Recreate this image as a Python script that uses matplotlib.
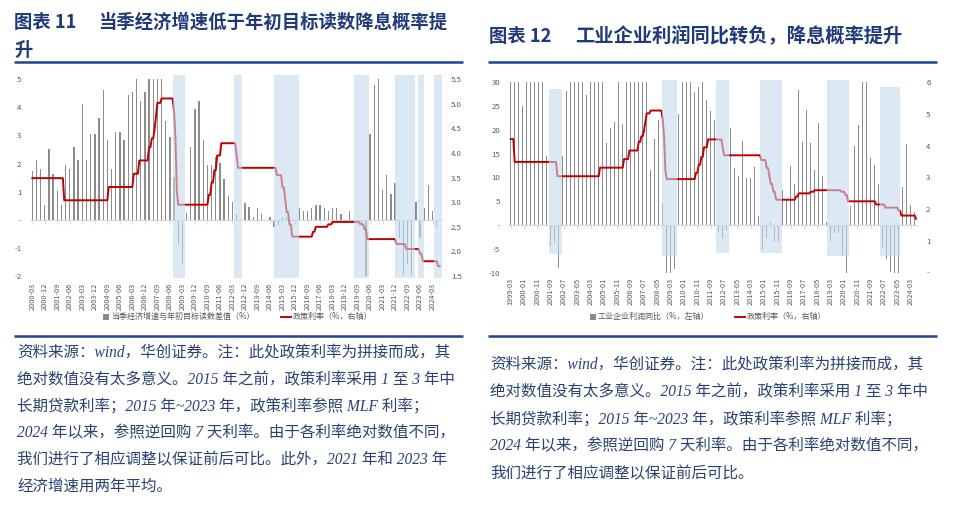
import numpy as np
import pandas as pd
import matplotlib
matplotlib.use('Agg')
import matplotlib.pyplot as plt
from matplotlib.patches import Rectangle
from matplotlib.lines import Line2D
from matplotlib.transforms import blended_transform_factory

plt.rcParams['font.family'] = ['Noto Sans CJK SC', 'DejaVu Sans']
plt.rcParams['axes.unicode_minus'] = False

# ---------------- data: chart 11 (quarterly, 2000Q1 .. 2024Q2) ----------------
gdp_gap = [1.73, 2.14, 1.82, 0.52, 2.52, 1.62, 1.02, 0.52, 1.94, 1.82,
           2.6, 2.14, 4.13, 2.14, 3.05, 3.05, 3.63, 4.63, 2.85, 1.82,
           3.12, 3.12, 2.85, 4.43, 4.54, 5.0, 4.23, 4.54, 5.0, 5.0,
           5.0, 5.0, 3.5, 2.93, 1.54, -0.87, -1.56, 0.24, 2.6, 3.93,
           4.23, 2.85, 1.94, 1.94, 2.23, 2.02, 1.44, 0.83, 0.63,
           0.2, -0.05, 0.6, 0.45, 0.1, 0.43, 0.2, 0.0, 0.1, -0.25,
           -0.2, 0.1, 0.1, 0.0, -0.06, 0.43, 0.3, 0.3, 0.43, 0.52,
           0.52, 0.43, 0.3, 0.43, 0.43, 0.2, 0.0, 0.3, 0.0, -0.05,
           -0.15, -2.0, 3.07, 4.8, 5.0, 1.05, 1.6, 0.93, 1.3, -0.63,
           -1.96, -1.56, -1.96, 0.65, -0.63, 0.43, 1.24, 0.3, -0.24]
gdp_origin = '2000-03-31'
gdp_tick_labels = ['2000-03', '2000-12', '2001-09', '2002-06', '2003-03', '2003-12',
                   '2004-09', '2005-06', '2006-03', '2006-12', '2007-09', '2008-06',
                   '2009-03', '2009-12', '2010-09', '2011-06', '2012-03', '2012-12',
                   '2013-09', '2014-06', '2015-03', '2015-12', '2016-09', '2017-06',
                   '2018-03', '2018-12', '2019-09', '2020-06', '2021-03', '2021-12',
                   '2022-09', '2023-06', '2024-03']
gdp_shade_start = ['2008-09-03', '2012-04-28', '2014-09-30', '2019-07-09',
                   '2021-12-28', '2023-05-06', '2024-05-06']
gdp_shade_end = ['2009-05-25', '2012-10-18', '2016-03-31', '2020-06-03',
                 '2023-03-03', '2023-09-30', '2024-10-27']
gdp_rate_end = '2024-08-31'

# ---------------- data: chart 12 (quarterly, 1999-03 .. 2024-06) ----------------
profit_yoy = [30, 30, 30, 25, 30, 30, 30, 30, 30,
              14.5, -4.3, -3.7, -9.1, 14.5, 28.1,
              30, 30, 30, 30, 27.4, 30, 30, 30, 30,
              17.2, 20.5, 21.7, 30, 21.3,
              30, 30, 30, 30, 30, 30,
              11.6, 18, 22, 4.6, -10, -10, -9.3, 23.4,
              30, 30, 30, 28, 29, 30, 26.3, 24, 22,
              -1.4, -2.8, -1.05,
              20.3, 11.9, 10.3, 17.7, 9.8, 10.0, 12.3,
              1.9, -5.2, -2.8, 0.7, -3.5, -3.5,
              7.4, 5.2, 12.5, 8.7, 28.4, 17.5, 24.1, 17.3, 11.5, 21.5, 10.3, 0.7,
              -3.3, -1.75, -1.6, -6.3, -10,
              4.0, 16.6, 21, 30, 30, 14.2, 12.6, 8.6,
              -4.5, -7.1, -9.9, -10, -10,
              7.9, 17, 4.3, 2.8]
profit_origin = '1999-03-31'
profit_tick_labels = ['1999-03', '2000-01', '2000-11', '2001-09', '2002-07', '2003-05',
                      '2004-03', '2005-01', '2005-11', '2006-09', '2007-07', '2008-05',
                      '2009-03', '2010-01', '2010-11', '2011-09', '2012-07', '2013-05',
                      '2014-03', '2015-01', '2015-11', '2016-09', '2017-07', '2018-05',
                      '2019-03', '2020-01', '2020-11', '2021-09', '2022-07', '2023-05',
                      '2024-03']
profit_shade_start = ['2001-08-31', '2008-09-21', '2012-01-31', '2014-11-06',
                      '2018-12-31', '2022-04-25']
profit_shade_end = ['2002-06-09', '2009-08-31', '2012-11-30', '2016-03-09',
                    '2020-05-31', '2023-08-09']
profit_shade_top = [28.6, 30.5, 30.5, 30.5, 30.5, 29.1]
profit_shade_bottom = [-6.1, -6.4, -5.9, -5.9, -6.5, -6.5]
profit_rate_end = '2024-07-31'

# ---------------- data: spliced policy rate (adjusted, %) ----------------
rate_dates = ['1998-12-07', '1999-06-10', '2002-02-21', '2004-10-29', '2006-04-28',
              '2006-08-19', '2007-03-18', '2007-05-19', '2007-07-21', '2007-08-22',
              '2007-09-15', '2007-12-21', '2008-09-16', '2008-10-09', '2008-10-30',
              '2008-11-27', '2008-12-23', '2010-10-20', '2010-12-26', '2011-02-09',
              '2011-04-06', '2011-07-07', '2012-06-08', '2012-07-06', '2014-11-22',
              '2015-03-01', '2015-05-11', '2015-06-28', '2015-08-26', '2015-10-24',
              '2017-01-24', '2017-03-16', '2017-12-14', '2018-03-22', '2019-11-05',
              '2020-02-17', '2020-04-15', '2022-01-17', '2022-08-15', '2023-06-15',
              '2023-08-15', '2024-07-22']
rate_values = [4.21, 3.49, 3.04, 3.31, 3.58, 3.85, 4.12, 4.30, 4.48, 4.75,
               5.02, 5.11, 4.84, 4.57, 4.30, 3.22, 2.95, 3.15, 3.40, 3.65,
               3.95, 4.20, 3.95, 3.70, 3.55, 3.30, 3.05, 2.80, 2.55, 2.30,
               2.40, 2.50, 2.55, 2.60, 2.55, 2.45, 2.25, 2.15, 2.05, 1.95,
               1.80, 1.70]

legend_left = ['当季经济增速与年初目标读数差值（%）', '政策利率（%，右轴）']
legend_right = ['工业企业利润同比（%，左轴）', '政策利率（%，右轴）']
title_left = ['图表 11', '当季经济增速低于年初目标读数降息概率提', '升']
title_right = ['图表 12', '工业企业利润同比转负，降息概率提升']
note_left = ['资料来源：wind，华创证券。注：此处政策利率为拼接而成，其',
             '绝对数值没有太多意义。2015 年之前，政策利率采用 1 至 3 年中',
             '长期贷款利率；2015 年~2023 年，政策利率参照 MLF 利率；',
             '2024 年以来，参照逆回购 7 天利率。由于各利率绝对数值不同，',
             '我们进行了相应调整以保证前后可比。此外，2021 年和 2023 年',
             '经济增速用两年平均。']
note_right = note_left[:4] + ['我们进行了相应调整以保证前后可比。']

# ---------------- helpers ----------------
W, H = 960, 507
fig = plt.figure(figsize=(W / 100, H / 100), dpi=100)


def fx(px):
    return px / W


def fy(py):
    return 1 - py / H


def month_pos(d):
    d = pd.Timestamp(d)
    return d.year * 12 + d.month - 1 + d.day / d.days_in_month


def rate_series(start, end):
    dates = pd.date_range(start, end, freq='ME')
    change = pd.to_datetime(rate_dates)
    idx = np.searchsorted(change.values, dates.values, side='right') - 1
    return dates, np.array(rate_values)[idx]


BAR = '#8c8c8c'
RED = '#C00000'
SHADE = '#C6DAEE'
TICKC = '#595959'
AXC = '#d9d9d9'
NAVY = '#1F3A7A'
NOTEC = '#2A4272'


def style_main(ax):
    for s in ['top', 'right', 'left']:
        ax.spines[s].set_visible(False)
    ax.spines['bottom'].set_position(('data', 0))
    ax.spines['bottom'].set_color(AXC)
    ax.spines['bottom'].set_linewidth(0.8)
    ax.tick_params(axis='x', length=3, width=0.6, color=AXC, direction='out',
                   labelbottom=False)
    ax.tick_params(axis='y', length=0, pad=6.3, labelsize=5.6, labelcolor=TICKC)


def style_twin(ax):
    for s in ax.spines.values():
        s.set_visible(False)
    ax.tick_params(axis='y', length=0, pad=6.3, labelsize=5.6, labelcolor=TICKC)


def xlabels(ax, pos, labels, yoff):
    tr = blended_transform_factory(ax.transData, ax.transAxes)
    for p, lab in zip(pos, labels):
        ax.text(p, yoff, lab, transform=tr, rotation=90, ha='center', va='top',
                fontsize=5.3, color=TICKC)


# ---------------- chart 11 ----------------
axL = fig.add_axes([fx(30.2), fy(276), fx(442.2) - fx(30.2), fy(79.3) - fy(276)])
qx = np.arange(len(gdp_gap))
axL.bar(qx, gdp_gap, width=0.32, color=BAR, zorder=1)
axL.set_xlim(-0.5, 98.3)
axL.set_ylim(-2, 5)
style_main(axL)
axL.set_yticks(range(-2, 6))
axL.set_yticklabels(['-2', '-1', '-', '1', '2', '3', '4', '5'])
tpos = np.arange(0, len(gdp_gap), 3)
axL.set_xticks(tpos)
xlabels(axL, tpos, gdp_tick_labels, -0.034)

axL2 = axL.twinx()
style_twin(axL2)
axL2.set_ylim(1.5, 5.5)
yt = np.arange(1.5, 5.51, 0.5)
axL2.set_yticks(yt)
axL2.set_yticklabels([f'{v:.1f}' for v in yt])
o = month_pos(gdp_origin)
d, v = rate_series(gdp_origin, gdp_rate_end)
axL2.plot([(month_pos(t) - o) / 3 for t in d], v, color=RED, lw=1.4, zorder=3)
for s, e in zip(gdp_shade_start, gdp_shade_end):
    axL2.axvspan((month_pos(s) - o) / 3, (month_pos(e) - o) / 3, ymin=-0.012, ymax=1.022,
                 facecolor=SHADE, alpha=0.6, edgecolor='none', zorder=5, clip_on=False)
axL.set_xlim(-0.5, 98.3)

# ---------------- chart 12 ----------------
axR = fig.add_axes([fx(508.7), fy(272.7), (917.4 - 508.7) / W, (272.7 - 82.3) / H])
mx = np.arange(len(profit_yoy)) * 3
axR.bar(mx, profit_yoy, width=0.95, color=BAR, zorder=1)
axR.set_xlim(-1.5, 305)
axR.set_ylim(-10, 30)
style_main(axR)
axR.set_yticks(range(-10, 31, 5))
axR.set_yticklabels(['-10', '-5', '-', '5', '10', '15', '20', '25', '30'])
tpos = np.arange(0, 301, 10)
axR.set_xticks(tpos)
xlabels(axR, tpos, profit_tick_labels, -0.028)

axR2 = axR.twinx()
style_twin(axR2)
axR2.set_ylim(0, 6)
axR2.set_yticks(range(0, 7))
axR2.set_yticklabels(['-', '1', '2', '3', '4', '5', '6'])
o = month_pos(profit_origin)
d, v = rate_series(profit_origin, profit_rate_end)
axR2.plot([month_pos(t) - o for t in d], v, color=RED, lw=1.4, zorder=3)
for s, e, t, b in zip(profit_shade_start, profit_shade_end, profit_shade_top, profit_shade_bottom):
    x0 = month_pos(s) - o
    x1 = month_pos(e) - o
    axR2.add_patch(Rectangle((x0, b), x1 - x0, t - b, transform=axR.transData,
                             facecolor=SHADE, alpha=0.6, edgecolor='none', zorder=5,
                             clip_on=False))
axR.set_xlim(-1.5, 305)
axR2.set_ylim(0, 6)

# ---------------- legends ----------------
def legend_bar(x, y, text):
    fig.add_artist(Rectangle((fx(x), fy(y + 3)), 6 / W, 6 / H, transform=fig.transFigure,
                             facecolor=BAR, edgecolor='none'))
    fig.text(fx(x + 8), fy(y), text, fontsize=5.8, color=TICKC, va='center', ha='left')


def legend_line(x, y, text):
    fig.add_artist(Line2D([fx(x), fx(x + 10)], [fy(y), fy(y)], transform=fig.transFigure,
                          color=RED, lw=1.4))
    fig.text(fx(x + 12), fy(y), text, fontsize=5.8, color=TICKC, va='center', ha='left')


legend_bar(103, 316.7, legend_left[0])
legend_line(281, 316.7, legend_left[1])
legend_bar(590, 316.7, legend_right[0])
legend_line(735, 316.7, legend_right[1])

# ---------------- titles, rules, notes ----------------
tkw = dict(fontsize=13.2, fontweight='bold', color=NAVY, va='center', ha='left')
fig.text(fx(14), fy(22), title_left[0], **tkw)
fig.text(fx(98), fy(22), title_left[1], **tkw)
fig.text(fx(14), fy(50), title_left[2], **tkw)
fig.text(fx(489), fy(36), title_right[0], **tkw)
fig.text(fx(575), fy(36), title_right[1], **dict(tkw, fontsize=13.9))

RULE = '#1F4690'
for x0, x1 in [(14, 463), (488, 937)]:
    for y in (62, 336):
        fig.add_artist(Line2D([fx(x0), fx(x1)], [fy(y), fy(y)], transform=fig.transFigure,
                              color=RULE, lw=1.8, solid_capstyle='butt'))

nkw = dict(fontsize=11.2, color=NOTEC, va='center', ha='left', style='italic',
           family=['Liberation Serif', 'Noto Sans CJK SC'])
for i, line in enumerate(note_left):
    fig.text(fx(17), fy(353.3 + i * 26.7), line, **nkw)
for i, line in enumerate(note_right):
    fig.text(fx(490), fy(365 + i * 27.2), line, **nkw)

fig.savefig('out.png', dpi=100)
